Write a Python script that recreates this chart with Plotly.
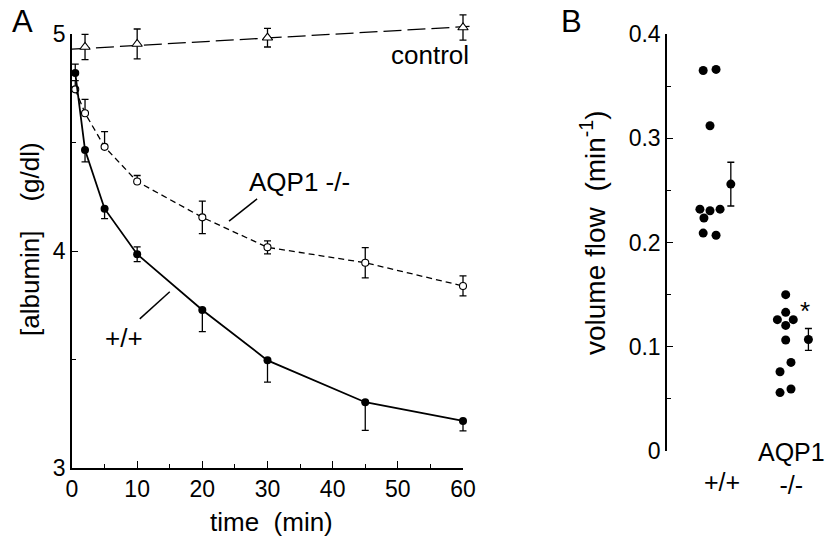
import plotly.graph_objects as go

# ---------------- Panel A data ----------------
t_wt = [0.5, 2, 5, 10, 20, 30, 45, 60]
alb_wt = [4.82, 4.465, 4.195, 3.985, 3.728, 3.496, 3.303, 3.217]
err_wt_plus = [0.041, 0, 0, 0.034, 0, 0, 0, 0]
err_wt_minus = [0, 0.054, 0.046, 0.034, 0.10, 0.10, 0.13, 0.046]

t_ko = [0.5, 2, 5, 10, 20, 30, 45, 60]
alb_ko = [4.745, 4.635, 4.48, 4.32, 4.155, 4.017, 3.946, 3.839]
err_ko_plus = [0.04, 0.064, 0.07, 0.028, 0.075, 0.03, 0.07, 0.046]
err_ko_minus = [0, 0, 0, 0, 0.075, 0.03, 0.07, 0.046]

t_ctl = [2, 10, 30, 60]
alb_ctl = [4.94, 4.954, 4.983, 5.03]
err_ctl = [0.058, 0.069, 0.043, 0.058]
ctl_fit_t = [0, 61]
ctl_fit_y = [4.93, 5.035]

x_ticks_A = [0, 10, 20, 30, 40, 50, 60]
y_ticks_A = [3, 4, 5]

# ---------------- Panel B data ----------------
flow_wt = [0.365, 0.366, 0.312, 0.232, 0.2305, 0.232, 0.2235, 0.209, 0.207]
jit_wt = [-0.09, 0.08, 0.0, -0.133, 0.0, 0.133, -0.08, -0.09, 0.08]
flow_ko = [0.150, 0.133, 0.126, 0.126, 0.1205, 0.1065, 0.085, 0.076, 0.0595, 0.056]
jit_ko = [0.0, 0.0, -0.11, 0.10, 0.0, 0.0, 0.07, -0.075, 0.07, -0.075]
mean_flow = [0.256, 0.107]
mean_err = [0.021, 0.0105]
mean_off = [0.275, 0.30]
group_pos = [1, 2]
y_ticks_B = [0, 0.1, 0.2, 0.3, 0.4]
y_ticklabels_B = ["0", "0.1", "0.2", "0.3", "0.4"]

FONT = "Liberation Sans, Arial, sans-serif"
W, H = 837, 544
LBL = 26
TCK = 23

def px(xp):
    return xp / W

def py(yp):
    return 1 - yp / H

# Panel A frame (pixels)
A_x0, A_x1, A_y0, A_y1 = 72, 463, 34, 468  # left,right,top,bottom
sx = (A_x1 - A_x0) / 60.0
sy = (A_y1 - A_y0) / 2.0
xr = [-3, 63]
yr = [2.9, 5.15]
dA_x = [A_x0 + xr[0] * sx, A_x0 + xr[1] * sx]
dA_y = [A_y1 + (3 - yr[0]) * sy, A_y1 - (yr[1] - 3) * sy]

fig = go.Figure()
blk = "black"

fig.add_trace(go.Scatter(x=ctl_fit_t, y=ctl_fit_y, mode="lines",
                         line=dict(color=blk, width=1.3, dash="18px,6px"),
                         xaxis="x", yaxis="y", hoverinfo="skip"))
fig.add_trace(go.Scatter(x=t_ctl, y=alb_ctl, mode="markers",
                         marker=dict(symbol="triangle-up", size=9, color="white",
                                     line=dict(color=blk, width=1.1)),
                         error_y=dict(type="data", array=err_ctl, color=blk,
                                      thickness=1.3, width=3.5),
                         xaxis="x", yaxis="y"))
fig.add_trace(go.Scatter(x=t_ko, y=alb_ko, mode="lines+markers",
                         line=dict(color=blk, width=1.3, dash="6px,4px"),
                         marker=dict(symbol="circle", size=7, color="white",
                                     line=dict(color=blk, width=1.1)),
                         error_y=dict(type="data", symmetric=False, array=err_ko_plus,
                                      arrayminus=err_ko_minus, color=blk,
                                      thickness=1.3, width=3.5),
                         xaxis="x", yaxis="y"))
fig.add_trace(go.Scatter(x=t_wt, y=alb_wt, mode="lines+markers",
                         line=dict(color=blk, width=1.8),
                         marker=dict(symbol="circle", size=8, color=blk),
                         error_y=dict(type="data", symmetric=False, array=err_wt_plus,
                                      arrayminus=err_wt_minus, color=blk,
                                      thickness=1.3, width=3.5),
                         xaxis="x", yaxis="y"))
fig.add_trace(go.Scatter(x=[], y=[], xaxis="x3", yaxis="y3", hoverinfo="skip"))

fig.add_trace(go.Scatter(x=[group_pos[0] + j for j in jit_wt], y=flow_wt, mode="markers",
                         marker=dict(size=9, color=blk), xaxis="x2", yaxis="y2"))
fig.add_trace(go.Scatter(x=[group_pos[1] + j for j in jit_ko], y=flow_ko, mode="markers",
                         marker=dict(size=9, color=blk), xaxis="x2", yaxis="y2"))
fig.add_trace(go.Scatter(x=[g + o for g, o in zip(group_pos, mean_off)], y=mean_flow,
                         mode="markers", marker=dict(size=9, color=blk),
                         error_y=dict(type="data", array=mean_err, color=blk,
                                      thickness=1.3, width=3.5),
                         xaxis="x2", yaxis="y2"))

ax_common = dict(showgrid=False, zeroline=False, color=blk, automargin=False,
                 tickfont=dict(family=FONT, size=TCK, color=blk))

B_x0, B_y0, B_y1 = 667, 34, 451
sB = 75.7
x2r = [group_pos[0] - (710 - B_x0) / sB, group_pos[0] + (W - 710) / sB]

fig.update_layout(
    width=W, height=H, autosize=False,
    margin=dict(l=0, r=0, t=0, b=0, pad=0, autoexpand=False),
    paper_bgcolor="white", plot_bgcolor="rgba(0,0,0,0)",
    showlegend=False,
    font=dict(family=FONT, size=LBL, color=blk),
    xaxis=dict(domain=[px(dA_x[0]), px(dA_x[1])], range=xr, visible=False,
               anchor="y", fixedrange=True),
    yaxis=dict(domain=[py(dA_y[0]), py(dA_y[1])], range=yr, visible=False,
               anchor="x", fixedrange=True),
    xaxis3=dict(domain=[px(A_x0), px(A_x1)], range=[0, 60], anchor="y3",
                showline=True, linecolor=blk, linewidth=1.5,
                ticks="inside", ticklen=7, tickwidth=1.3, tickcolor=blk,
                tickvals=x_ticks_A, ticktext=[str(v) for v in x_ticks_A],
                minor=dict(dtick=5, tick0=0, ticks="inside", ticklen=4, tickcolor=blk, tickwidth=1.2),
                **ax_common),
    yaxis3=dict(domain=[py(A_y1), py(A_y0)], range=[3, 5], anchor="x3",
                showline=True, linecolor=blk, linewidth=1.5,
                ticks="inside", ticklen=6, tickwidth=1.3, tickcolor=blk,
                tickvals=y_ticks_A, ticktext=[str(v) for v in y_ticks_A],
                minor=dict(dtick=0.5, tick0=3, ticks="inside", ticklen=4, tickcolor=blk, tickwidth=1.2),
                **ax_common),
    xaxis2=dict(domain=[px(B_x0), 1], range=x2r, visible=False, anchor="y2", fixedrange=True),
    yaxis2=dict(domain=[py(B_y1), py(B_y0)], range=[0, 0.4], anchor="x2",
                showline=True, linecolor=blk, linewidth=1.5,
                ticks="inside", ticklen=6, tickwidth=1.3, tickcolor=blk,
                tickvals=y_ticks_B, ticktext=y_ticklabels_B,
                minor=dict(dtick=0.05, tick0=0, ticks="inside", ticklen=4, tickcolor=blk, tickwidth=1.2),
                **ax_common),
)

ann = []
def txt(text, x, y, xref="paper", yref="paper", size=LBL, angle=0, xanchor="center", yanchor="middle"):
    ann.append(dict(text=text, x=x, y=y, xref=xref, yref=yref, showarrow=False,
                    font=dict(family=FONT, size=size, color=blk), textangle=angle,
                    xanchor=xanchor, yanchor=yanchor))

NB = "\u00a0"
txt("A", px(22), py(22), size=31)
txt("B", px(571), py(22), size=31)
txt("[albumin]" + NB * 4 + "(g/dl)", px(30), py(239), angle=-90)
txt("time" + NB * 2 + "(min)", px(271), py(522))
txt("control", 54.9, 4.903, xref="x", yref="y")
txt("AQP1 -/-", 34.9, 4.318, xref="x", yref="y")
txt("+/+", 8.0, 3.60, xref="x", yref="y")
txt("volume flow" + NB * 2 + "(min<sup>-1</sup>)", px(593), py(233), angle=-90, size=28)
txt("*", 2.26, 0.134, xref="x2", yref="y2")
txt("+/+", 1.16, py(482), xref="x2", size=25)
txt("AQP1<br>-/-", 2.08, py(468), xref="x2", size=25)
fig.update_layout(annotations=ann)

fig.add_shape(type="line", x0=28.4, y0=4.24, x1=24.1, y1=4.138, xref="x", yref="y",
              line=dict(color=blk, width=1.5))
fig.add_shape(type="line", x0=10.4, y0=3.687, x1=15.0, y1=3.812, xref="x", yref="y",
              line=dict(color=blk, width=1.5))

fig.write_html("out.html", config={"displayModeBar": False},
               post_script="document.body.style.margin='0';")
